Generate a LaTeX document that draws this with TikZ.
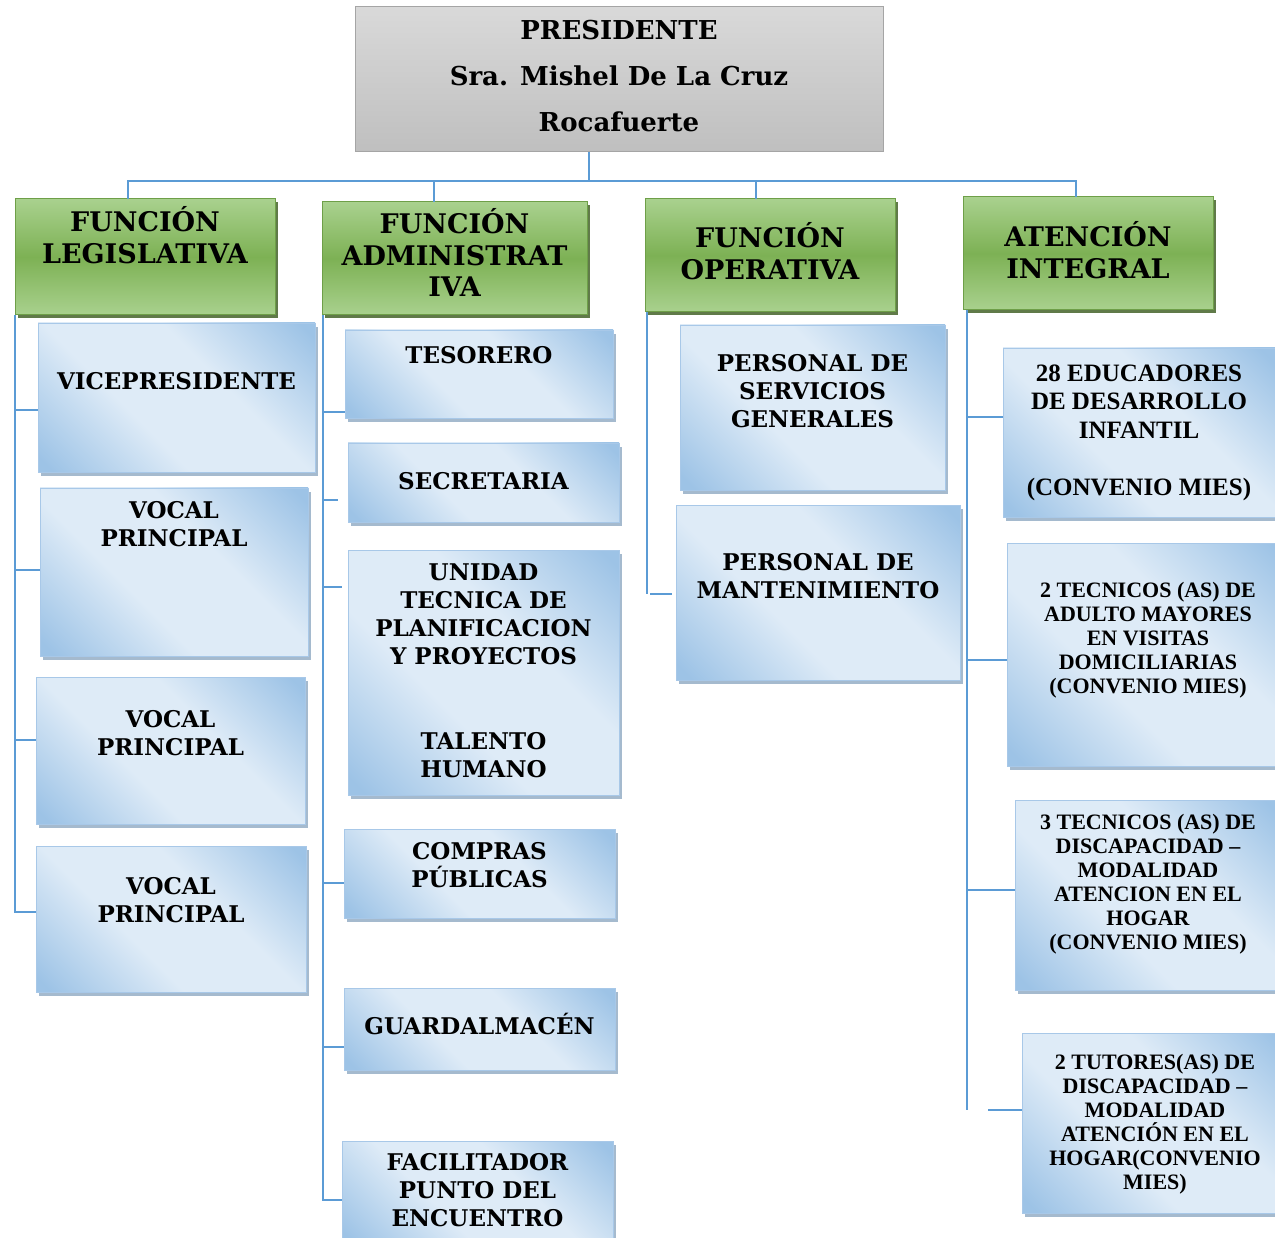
\documentclass[tikz,border=0pt]{standalone}
\usepackage{fontspec}
\newfontfamily\cent{DejaVu Serif}
\newfontfamily\tms{Liberation Serif}
\usetikzlibrary{shadows}
\definecolor{lineblue}{HTML}{5B9BD5}
\definecolor{pTop}{HTML}{D9D9D9}
\definecolor{pBot}{HTML}{BFBFBF}
\definecolor{pBord}{HTML}{A5A5A5}
\definecolor{gL}{HTML}{A9D18E}
\definecolor{gD}{HTML}{7DB154}
\definecolor{gB}{HTML}{6E9F48}
\definecolor{gS}{HTML}{4F6B35}
\definecolor{bL}{HTML}{DEEBF7}
\definecolor{bD}{HTML}{9DC3E6}
\definecolor{bB}{HTML}{A8C8E8}
\definecolor{bS}{HTML}{8FA9C2}
\pgfdeclareverticalshading{grayshade}{100bp}{color(0bp)=(pBot); color(25bp)=(pBot); color(75bp)=(pTop); color(100bp)=(pTop)}
\pgfdeclareverticalshading{greenshade}{100bp}{color(0bp)=(gL); color(25bp)=(gL); color(50bp)=(gD); color(75bp)=(gL); color(100bp)=(gL)}
\pgfdeclarehorizontalshading{blueshade}{100bp}{color(0bp)=(bD); color(17bp)=(bD); color(40bp)=(bL); color(60bp)=(bL); color(83bp)=(bD); color(100bp)=(bD)}
\newcommand{\bx}[4]{\parbox[c][#2pt][t]{#1pt}{\centering\vspace*{#3pt}\rule{0pt}{1em}#4}}
\tikzset{
  link/.style={draw=lineblue, line width=1.5pt},
  presbox/.style={inner sep=0pt, outer sep=0pt, anchor=north west, draw=pBord, line width=1pt, shading=grayshade, font={\cent\bfseries\fontsize{26}{46}\selectfont}},
  funcbox/.style={inner sep=0pt, outer sep=0pt, anchor=north west, draw=gB, line width=1pt, shading=greenshade, drop shadow={shadow xshift=3pt, shadow yshift=-3pt, fill=gS, opacity=0.9}, font={\cent\bfseries\fontsize{27}{31.5}\selectfont}},
  unitbox/.style={inner sep=0pt, outer sep=0pt, anchor=north west, draw=bB, line width=0.8pt, shading=blueshade, shading angle=45, drop shadow={shadow xshift=3pt, shadow yshift=-4pt, fill=bS, opacity=0.8}, font={\cent\bfseries\fontsize{23}{28}\selectfont}},
  mieslarge/.style={unitbox, font={\tms\bfseries\fontsize{25}{28.5}\selectfont}},
  miessmall/.style={unitbox, font={\tms\bfseries\fontsize{22}{24}\selectfont}},
}
\begin{document}
\begin{tikzpicture}[x=1pt,y=-1pt]
\useasboundingbox (0,0) rectangle (1275,1238);
\clip (0,0) rectangle (1275,1238);
% top
\node[presbox] (pres) at (355,7) {\bx{528}{145}{6.5}{PRESIDENTE\\Sra. Mishel De La Cruz\\Rocafuerte}};
% function headers
\node[funcbox] (leg) at (15,199) {\bx{260}{116}{5.9}{FUNCIÓN\\LEGISLATIVA}};
\node[funcbox] (adm) at (322,202) {\bx{265}{113}{4.9}{FUNCIÓN\\ADMINISTRAT\\IVA}};
\node[funcbox] (ope) at (645,199) {\bx{250}{113}{21.9}{FUNCIÓN\\OPERATIVA}};
\node[funcbox] (atn) at (963,197) {\bx{250}{113}{22.9}{ATENCIÓN\\INTEGRAL}};
% legislativa
\node[unitbox] (vice) at (38,323) {\bx{277}{149}{43.4}{VICEPRESIDENTE}};
\node[unitbox] (voc1) at (40,488) {\bx{268}{168}{7.4}{VOCAL\\PRINCIPAL}};
\node[unitbox] (voc2) at (36,677) {\bx{269}{147}{27.4}{VOCAL\\PRINCIPAL}};
\node[unitbox] (voc3) at (36,846) {\bx{270}{146}{25.4}{VOCAL\\PRINCIPAL}};
% administrativa
\node[unitbox] (tes) at (345,330) {\bx{268}{88}{10.4}{TESORERO}};
\node[unitbox] (sec) at (348,443) {\bx{271}{79}{23.4}{SECRETARIA}};
\node[unitbox] (utp) at (348,550) {\bx{271}{245}{7.4}{UNIDAD\\TECNICA DE\\PLANIFICACION\\Y PROYECTOS\\[57pt]TALENTO\\HUMANO}};
\node[unitbox] (cmp) at (344,829) {\bx{271}{89}{7.4}{COMPRAS\\PÚBLICAS}};
\node[unitbox] (grd) at (344,988) {\bx{271}{82}{23.4}{GUARDALMACÉN}};
\node[unitbox] (fac) at (342,1141) {\bx{271}{104}{6.4}{FACILITADOR\\PUNTO DEL\\ENCUENTRO}};
% operativa
\node[unitbox] (ser) at (680,325) {\bx{265}{165}{23.4}{PERSONAL DE\\SERVICIOS\\GENERALES}};
\node[unitbox] (man) at (676,505) {\bx{284}{175}{42.4}{PERSONAL DE\\MANTENIMIENTO}};
% atencion integral
\node[mieslarge] (edu) at (1003,348) {\bx{272}{169}{8.3}{28 EDUCADORES\\DE DESARROLLO\\INFANTIL\\[28.5pt](CONVENIO MIES)}};
\node[miessmall] (adu) at (1007,543) {\bx{282}{223}{32.3}{2 TECNICOS (AS) DE\\ADULTO MAYORES\\EN VISITAS\\DOMICILIARIAS\\(CONVENIO MIES)}};
\node[miessmall] (dis) at (1015,800) {\bx{266}{190}{7.3}{3 TECNICOS (AS) DE\\DISCAPACIDAD –\\MODALIDAD\\ATENCION EN EL\\HOGAR\\(CONVENIO MIES)}};
\node[miessmall] (tut) at (1022,1033) {\bx{266}{180}{14.3}{2 TUTORES(AS) DE\\DISCAPACIDAD –\\MODALIDAD\\ATENCIÓN EN EL\\HOGAR(CONVENIO\\MIES)}};
% branch levels
\coordinate (l1) at (0,410); \coordinate (l2) at (0,570); \coordinate (l3) at (0,740); \coordinate (l4) at (0,912);
\coordinate (a1) at (0,412); \coordinate (a2) at (0,500); \coordinate (a3) at (0,587); \coordinate (a4) at (0,883); \coordinate (a5) at (0,1047); \coordinate (a6) at (0,1200);
\coordinate (o1) at (0,594);
\coordinate (t1) at (0,417); \coordinate (t2) at (0,660); \coordinate (t3) at (0,890); \coordinate (t4) at (0,1110);
\coordinate (lt) at (leg.south west);
\coordinate (at) at ([xshift=1pt]adm.south west);
\coordinate (ot) at ([xshift=2pt]ope.south west);
\coordinate (tt) at ([xshift=4pt]atn.south west);
% bus
\draw[link] ([xshift=-30pt]pres.south) -- ++(0,29) coordinate (bus);
\draw[link] ([xshift=-17pt]leg.north) |- (bus) -| ([xshift=-12pt]atn.north);
\draw[link] ([xshift=-20.5pt]adm.north) -- ++(0,-21);
\draw[link] ([xshift=-14pt]ope.north) -- ++(0,-18);
% legislativa
\draw[link] (lt) -- (lt |- l4) -- (voc3.west |- l4);
\draw[link] (lt |- l1) -- (vice.west |- l1);
\draw[link] (lt |- l2) -- (voc1.west |- l2);
\draw[link] (lt |- l3) -- (voc2.west |- l3);
% administrativa
\draw[link] (at) -- (at |- a6) -- (fac.west |- a6);
\draw[link] (at |- a1) -- (tes.west |- a1);
\draw[link] (at |- a2) -- ++(15,0);
\draw[link] (at |- a3) -- ++(19,0);
\draw[link] (at |- a4) -- (cmp.west |- a4);
\draw[link] (at |- a5) -- (grd.west |- a5);
% operativa
\draw[link] (ot) -- (ot |- o1);
\draw[link] (ot |- o1) ++(3,0) -- ++(22,0);
% atencion
\draw[link] (tt) -- (tt |- t4);
\draw[link] (tt |- t1) -- (edu.west |- t1);
\draw[link] (tt |- t2) -- (adu.west |- t2);
\draw[link] (tt |- t3) -- (dis.west |- t3);
\draw[link] (tt |- t4) ++(21,0) -- (tut.west |- t4);
\end{tikzpicture}
\end{document}
